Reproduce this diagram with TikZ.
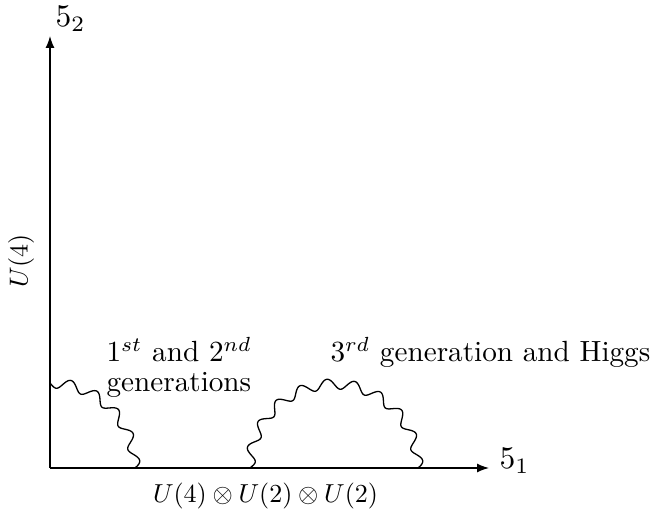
\documentclass[tikz,border=0pt]{standalone}
\usetikzlibrary{arrows.meta}
\begin{document}
\begin{tikzpicture}[x=1pt,y=1pt,
  axis/.style={line width=1.3pt,-{Latex[length=12pt,width=9pt]}},
  wig/.style={line width=1.3pt,line join=round},
  sym/.style={font=\fontsize{10}{12}\selectfont,inner sep=0pt,scale=3.15},
  big/.style={font=\fontsize{10}{12}\selectfont,inner sep=0pt,scale=2.92},
  mid/.style={font=\fontsize{10}{12}\selectfont,inner sep=0pt,scale=2.6}]
\useasboundingbox (0,0) rectangle (661,519);
\coordinate (O) at (50,51);
\coordinate (yend) at (50,483);
\coordinate (xend) at (489,51);
\draw[axis] (O) -- (yend);
\draw[axis] (O) -- (xend);
\node[sym,anchor=base west] (l52) at (55,492) {$5_2$};
\node[sym,anchor=base west] (l51) at (499,50) {$5_1$};
\node[mid,rotate=90] (u4) at (21,258) {$U(4)$};
\node[mid,anchor=base] (bot) at (265.5,16) {$U(4)\otimes U(2)\otimes U(2)$};
\draw[wig] plot[domain=0:90,samples=181,smooth,variable=\t]
  ({50+(85+5*sin(20*\t))*cos(\t)},{51+(85+5*sin(20*\t))*sin(\t)});
\draw[wig] plot[domain=0:180,samples=361,smooth,variable=\t]
  ({334+(84+5*sin(20*\t))*cos(\t)},{51+(84+5*sin(20*\t))*sin(\t)});
\node[big,anchor=base west] (t1) at (106,157) {$1^{st}$ and $2^{nd}$};
\node[big,anchor=base west] (t2) at (106,127) {generations};
\node[big,anchor=base west] (t3) at (330,157) {$3^{rd}$ generation and Higgs};
\end{tikzpicture}
\end{document}
